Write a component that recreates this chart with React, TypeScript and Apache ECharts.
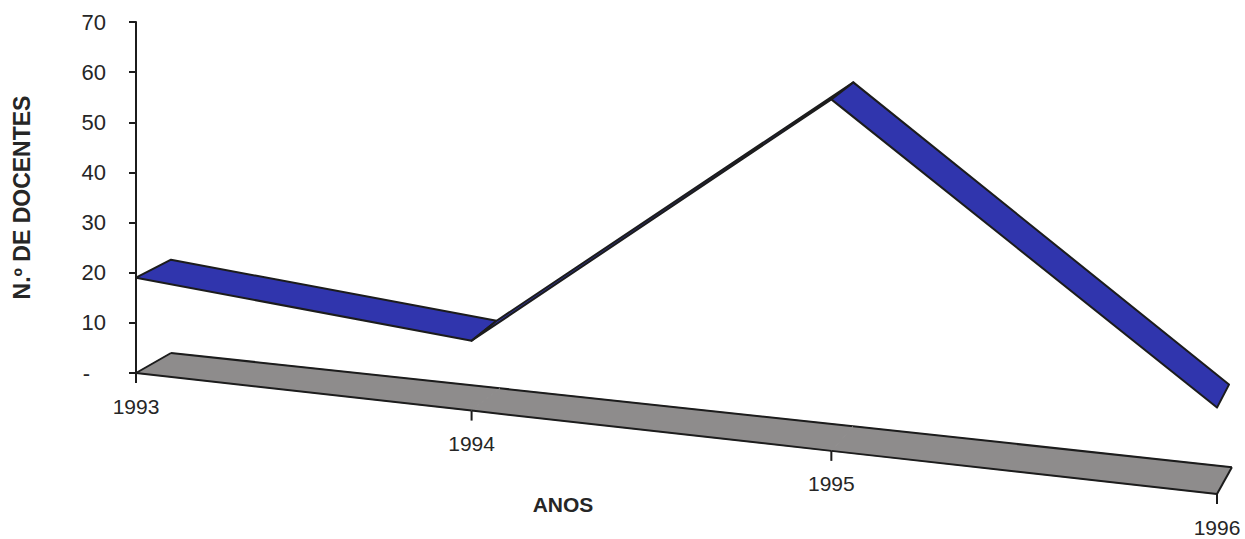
import React, { useEffect, useRef } from "react";
import * as echarts from "echarts";

// ---- data ----
const categories = ["1993", "1994", "1995", "1996"];
const docentes = [19, 13, 61, 14];
const floorLevel = [0, 0, 0, 0];
const yMin = 0;
const yMax = 70;
const yInterval = 10;

const xTitle = "ANOS";
const yTitle = "N.º DE DOCENTES";

// ---- styling / projection (oblique 3D view with slight perspective) ----
const BLUE = "#3035ad";
const GREY = "#8e8c8c";
const EDGE = "#1c1c1c";
const TEXT = "#262626";
const FONT = "'Liberation Sans', Arial, sans-serif";
const R = 1.072; // perspective growth per category
const SLOPE = 0.112; // floor drop per px to the right
const RIBBON_DX = [35, 25, 22, 12];
const RIBBON_DY = [-18, -20, -17, -23];
const floorDepth = (u: number) => [35 - 6.7 * u, -20 - 2.3 * u];
const g = (u: number) => (Math.pow(R, u) - 1) / (R - 1);
const G_MAX = g(categories.length - 1);

function project(api: any, u: number, v: number, d: number[] | null) {
  const origin = api.coord([0, 0]);
  const base = api.coord([g(u), 0]);
  const unit = api.size([0, 1])[1] * Math.pow(R, u);
  let x = base[0];
  let y = base[1] + SLOPE * (base[0] - origin[0]) - v * unit;
  if (d) {
    x += d[0];
    y += d[1];
  }
  return [x, y];
}

export default function App() {
  const ref = useRef<HTMLDivElement>(null);

  useEffect(() => {
    if (!ref.current) return;
    const chart = echarts.init(ref.current, null, { renderer: "svg" });

    const ribbonData = docentes
      .slice(0, -1)
      .map((v, i) => [i, v, docentes[i + 1]]);
    const floorData = floorLevel
      .slice(0, -1)
      .map((v, i) => [i, v, floorLevel[i + 1]]);
    const labelData = categories.map((c, i) => [i, floorLevel[i]]);
    const nSeg = categories.length - 1;

    chart.setOption({
      animation: false,
      backgroundColor: "#ffffff",
      grid: { left: 136, right: 28, top: 22, bottom: 166 },
      xAxis: { type: "value", min: 0, max: G_MAX, show: false },
      yAxis: {
        type: "value",
        min: yMin,
        max: yMax,
        interval: yInterval,
        name: yTitle,
        nameLocation: "middle",
        nameRotate: 90,
        nameGap: 103,
        nameTextStyle: {
          fontFamily: FONT,
          fontSize: 23,
          fontWeight: "bold",
          color: TEXT,
        },
        axisLine: { show: true, lineStyle: { color: EDGE, width: 2 } },
        axisTick: { show: true, length: 7, lineStyle: { color: EDGE, width: 2 } },
        splitLine: { show: false },
        axisLabel: {
          margin: 30,
          fontFamily: FONT,
          fontSize: 22,
          color: TEXT,
          formatter: (v: number) => (v === 0 ? "{d|-}" : String(v)),
          rich: {
            d: { fontFamily: FONT, fontSize: 22, color: TEXT, padding: [0, 16, 0, 0] },
          },
        },
      },
      graphic: [
        {
          type: "text",
          x: 563,
          y: 504,
          style: {
            text: xTitle,
            fontFamily: FONT,
            fontSize: 21,
            fontWeight: "bold",
            fill: TEXT,
            align: "center",
            verticalAlign: "middle",
          },
        },
      ],
      series: [
        {
          type: "custom",
          name: "floor",
          clip: false,
          silent: true,
          data: floorData,
          renderItem: (params: any, api: any) => {
            const i = api.value(0);
            const v0 = api.value(1);
            const v1 = api.value(2);
            const f0 = project(api, i, v0, null);
            const f1 = project(api, i + 1, v1, null);
            const b1 = project(api, i + 1, v1, floorDepth(i + 1));
            const b0 = project(api, i, v0, floorDepth(i));
            const children: any[] = [
              {
                type: "polygon",
                shape: { points: [f0, f1, b1, b0] },
                style: { fill: GREY, stroke: GREY, lineWidth: 1 },
              },
              {
                type: "polyline",
                shape: { points: [f0, f1] },
                style: { stroke: EDGE, lineWidth: 2, fill: null },
              },
              {
                type: "polyline",
                shape: { points: [b0, b1] },
                style: { stroke: EDGE, lineWidth: 2, fill: null },
              },
            ];
            if (i === 0)
              children.push({
                type: "line",
                shape: { x1: f0[0], y1: f0[1], x2: b0[0], y2: b0[1] },
                style: { stroke: EDGE, lineWidth: 2 },
              });
            if (i === nSeg - 1)
              children.push({
                type: "line",
                shape: { x1: f1[0], y1: f1[1], x2: b1[0], y2: b1[1] },
                style: { stroke: EDGE, lineWidth: 2 },
              });
            return { type: "group", children };
          },
        },
        {
          type: "custom",
          name: "categorias",
          clip: false,
          silent: true,
          data: labelData,
          renderItem: (params: any, api: any) => {
            const i = api.value(0);
            const f = project(api, i, api.value(1), null);
            return {
              type: "group",
              children: [
                {
                  type: "line",
                  shape: { x1: f[0], y1: f[1], x2: f[0], y2: f[1] + 10 },
                  style: { stroke: EDGE, lineWidth: 2 },
                },
                {
                  type: "text",
                  x: f[0],
                  y: f[1] + 33,
                  style: {
                    text: categories[i],
                    fontFamily: FONT,
                    fontSize: 21,
                    fill: TEXT,
                    align: "center",
                    verticalAlign: "middle",
                  },
                },
              ],
            };
          },
        },
        {
          type: "custom",
          name: "N.º de docentes",
          clip: false,
          silent: true,
          data: ribbonData,
          renderItem: (params: any, api: any) => {
            const i = api.value(0);
            const v0 = api.value(1);
            const v1 = api.value(2);
            const d0 = [RIBBON_DX[i], RIBBON_DY[i]];
            const d1 = [RIBBON_DX[i + 1], RIBBON_DY[i + 1]];
            const f0 = project(api, i, v0, null);
            const f1 = project(api, i + 1, v1, null);
            const b1 = project(api, i + 1, v1, d1);
            const b0 = project(api, i, v0, d0);
            return {
              type: "polygon",
              shape: { points: [f0, f1, b1, b0] },
              style: { fill: BLUE, stroke: EDGE, lineWidth: 2, lineJoin: "round" },
            };
          },
        },
      ],
    });

    return () => chart.dispose();
  }, []);

  return (
    <div
      ref={ref}
      style={{ position: "fixed", left: 0, top: 0, width: 1245, height: 539 }}
    />
  );
}
